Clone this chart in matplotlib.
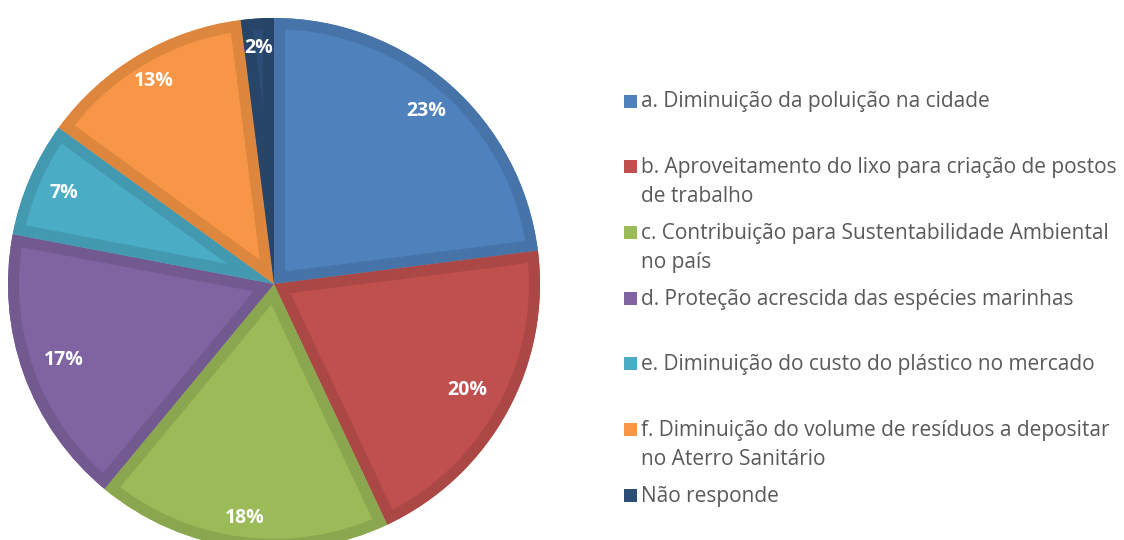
import numpy as np
import matplotlib.pyplot as plt
from matplotlib.colors import to_rgb
from matplotlib.patches import Rectangle, PathPatch

labels = ['a. Diminuição da poluição na cidade',
          'b. Aproveitamento do lixo para criação de postos\nde trabalho',
          'c. Contribuição para Sustentabilidade Ambiental\nno país',
          'd. Proteção acrescida das espécies marinhas',
          'e. Diminuição do custo do plástico no mercado',
          'f. Diminuição do volume de resíduos a depositar\nno Aterro Sanitário',
          'Não responde']
values = [23, 20, 18, 17, 7, 13, 2]
colors = ['#4F81BD', '#C0504D', '#9BBB59', '#8064A2', '#4BACC6', '#F79646', '#2C4D75']
# how far out each % label sits (fraction of radius), Excel "best fit"-ish
label_dist = [0.865, 0.83, 0.885, 0.84, 0.86, 0.885, 0.89]

plt.rcParams['font.family'] = ['Open Sans', 'DejaVu Sans']

W, H = 1124, 540
fig = plt.figure(figsize=(W / 100, H / 100), dpi=100)

# pie axes: centre (274, 284) px, radius 266 px
cx, cy, r = 274, 284, 266
ax = fig.add_axes([(cx - r) / W, (H - cy - r) / H, 2 * r / W, 2 * r / H])
wedges, texts, autotexts = ax.pie(values, colors=colors, startangle=90, counterclock=False,
                                  autopct='%1.0f%%', radius=1,
                                  textprops=dict(color='white', fontsize=14, fontweight='bold'))
ax.set_xlim(-1, 1)
ax.set_ylim(-1, 1)
ax.set_aspect('equal')
ax.axis('off')

# darker inner rim on every slice (Excel style)
for w, c, t, d in zip(wedges, colors, autotexts, label_dist):
    w.set_edgecolor('none')
    dark = tuple(v * 0.89 for v in to_rgb(c))
    rim = PathPatch(w.get_path(), facecolor='none', edgecolor=dark, linewidth=16,
                    joinstyle='round', zorder=w.get_zorder() + 0.1)
    ax.add_patch(rim)
    rim.set_clip_path(w.get_path(), ax.transData)
    mid = np.deg2rad((w.theta1 + w.theta2) / 2)
    t.set_position((d * np.cos(mid), d * np.sin(mid)))
    t.set_zorder(5)

# legend drawn by hand, Excel-style even slots
lx, base, step, lead = 624, 107.5, 65.7, 29
for i, (lab, c) in enumerate(zip(labels, colors)):
    y = base + i * step
    fig.patches.append(Rectangle((lx / W, 1 - y / H), 13 / W, 13 / H,
                                 transform=fig.transFigure, facecolor=c, edgecolor='none'))
    for k, line in enumerate(lab.split('\n')):
        fig.text((lx + 17) / W, 1 - (y + k * lead) / H, line, fontsize=15, color='#595959',
                 va='baseline', ha='left')

fig.savefig('out.png', dpi=100)
